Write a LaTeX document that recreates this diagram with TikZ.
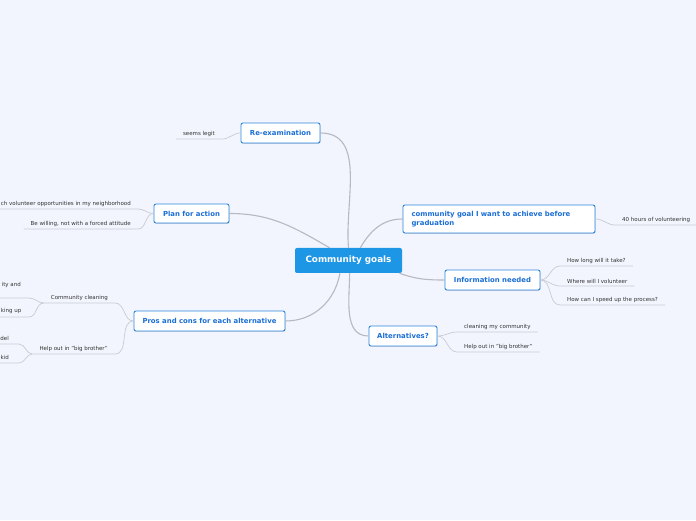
\documentclass[tikz,border=0pt]{standalone}
\usepackage{fontspec}
\setsansfont{DejaVu Sans}
\usetikzlibrary{shadows}
\definecolor{canvas}{HTML}{F2F5FD}
\definecolor{hub}{HTML}{1E96E6}
\definecolor{topicline}{HTML}{2D86E0}
\definecolor{topictext}{HTML}{1A6ED6}
\definecolor{branch}{HTML}{B6B8C2}
\definecolor{twig}{HTML}{C8CBD6}
\definecolor{leaftext}{HTML}{333333}
\tikzset{
  hubbox/.style={fill=hub, rounded corners=2pt, text=white,
    font=\sffamily\bfseries\fontsize{8.8}{10}\selectfont,
    minimum width=107pt, minimum height=25pt},
  topic/.style={draw=topicline, line width=0.9pt, fill=white, rounded corners=2pt,
    text=topictext, font=\sffamily\bfseries\fontsize{6.9}{8.8}\selectfont,
    minimum height=20pt,
    drop shadow={shadow xshift=0.6pt, shadow yshift=-0.8pt, opacity=0.25}},
  leaf/.style={font=\sffamily\fontsize{5.5}{6.5}\selectfont, text=leaftext,
    inner xsep=7pt, inner ysep=2.3pt},
  branchline/.style={draw=branch, line width=1.1pt},
  twigline/.style={draw=twig, line width=0.7pt},
}
\begin{document}
\begin{tikzpicture}[x=1pt,y=1pt]
  \path[use as bounding box, fill=canvas] (0,0) rectangle (696,520);
  \clip (0,0) rectangle (696,520);
  % main topics
  \node[hubbox] (hub) at (348.5,259.5) {Community goals};
  \node[topic, minimum width=79pt] (reexam) at (280.5,387) {Re-examination};
  \node[topic, minimum width=75pt, minimum height=19pt] (plan) at (191.5,306.5) {Plan for action};
  \node[topic, minimum width=151pt] (pros) at (209.5,199) {Pros and cons for each alternative};
  \node[topic, minimum width=192pt, minimum height=28pt, text width=175pt, align=left] (goal)
    at (499,301) {community goal I want to achieve before\\graduation};
  \node[topic, minimum width=95pt] (info) at (492.5,240) {Information needed};
  \node[topic, minimum width=68pt] (alt) at (403,184) {Alternatives?};
  % leaves, right side
  \node[leaf, anchor=south west] (vol) at (615,295) {40 hours of volunteering};
  \node[leaf, anchor=south west] (howlong) at (560,254) {How long will it take?};
  \node[leaf, anchor=south west] (where) at (560,234) {Where will I volunteer};
  \node[leaf, anchor=south west] (speed) at (560,215) {How can I speed up the process?};
  \node[leaf, anchor=south west] (cleanmine) at (457,188) {cleaning my community};
  \node[leaf, anchor=south west] (bigbro) at (457,168) {Help out in "big brother"};
  % leaves, left side
  \node[leaf, anchor=south east] (legit) at (222,381) {seems legit};
  \node[leaf, anchor=south east] (research) at (138,311) {ch volunteer opportunities in my neighborhood};
  \node[leaf, anchor=south east] (willing) at (138,291) {Be willing, not with a forced attitude};
  \node[leaf, anchor=south east] (commclean) at (115,217) {Community cleaning};
  \node[leaf, anchor=south east] (helpout) at (115,166) {Help out in "big brother"};
  \node[leaf, anchor=east, inner xsep=0pt] (ityand) at (21,235) {ity and};
  \node[leaf, anchor=east, inner xsep=0pt] (kingup) at (21.5,209) {king up};
  \node[leaf, anchor=east, inner xsep=0pt] (del) at (9,182) {del};
  \node[leaf, anchor=east, inner xsep=0pt] (kid) at (9,163) {kid};
  \coordinate (ityandE) at (29,222);  \coordinate (ityandW) at (-2,222);
  \coordinate (kingupE) at (29,203);  \coordinate (kingupW) at (-2,203);
  \coordinate (delE) at (19,176);     \coordinate (delW) at (-2,176);
  \coordinate (kidE) at (19,157);     \coordinate (kidW) at (-2,157);
  % branches from the hub
  \draw[branchline] (reexam.east) to[out=0, in=95] (hub.north);
  \draw[branchline] (plan.east) to[out=0, in=150] (hub.146);
  \draw[branchline] (goal.west) to[out=180, in=60] (hub.47);
  \draw[branchline] (info.west) to[out=180, in=-20] (hub.-14);
  \draw[branchline] (alt.west) to[out=180, in=-90] (hub.-85);
  \draw[branchline] (pros.east) to[out=0, in=-100] (hub.-124);
  % twigs
  \draw[twigline] (goal.east) to[out=0, in=180] (vol.south west) -- (vol.south east);
  \foreach \leafname in {howlong,where,speed}
    \draw[twigline] (info.east) to[out=0, in=180] (\leafname.south west) -- (\leafname.south east);
  \foreach \leafname in {cleanmine,bigbro}
    \draw[twigline] (alt.east) to[out=0, in=180] (\leafname.south west) -- (\leafname.south east);
  \draw[twigline] (reexam.west) to[out=180, in=0] (legit.south east) -- (legit.south west);
  \foreach \leafname in {research,willing}
    \draw[twigline] (plan.west) to[out=180, in=0] (\leafname.south east) -- (\leafname.south west);
  \foreach \leafname in {commclean,helpout}
    \draw[twigline] (pros.west) to[out=180, in=0] (\leafname.south east) -- (\leafname.south west);
  \foreach \leafname in {ityand,kingup}
    \draw[twigline] (commclean.south west) to[out=180, in=0] (\leafname E) -- (\leafname W);
  \foreach \leafname in {del,kid}
    \draw[twigline] (helpout.south west) to[out=180, in=0] (\leafname E) -- (\leafname W);
\end{tikzpicture}
\end{document}
